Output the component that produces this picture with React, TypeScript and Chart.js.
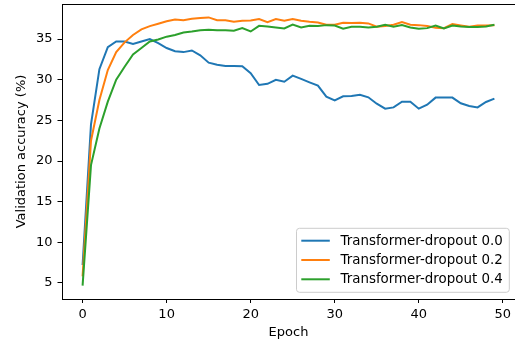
import { useEffect, useRef } from "react";
import { Chart, registerables } from "chart.js";

Chart.register(...registerables);

const epochs = [
  0, 1, 2, 3, 4, 5, 6, 7, 8, 9, 10, 11, 12, 13, 14, 15, 16, 17, 18, 19, 20, 21, 22, 23, 24,
  25, 26, 27, 28, 29, 30, 31, 32, 33, 34, 35, 36, 37, 38, 39, 40, 41, 42, 43, 44, 45, 46, 47, 48, 49,
];

const seriesLabels = [
  "Transformer-dropout 0.0",
  "Transformer-dropout 0.2",
  "Transformer-dropout 0.4",
];

const accDropout00 = [
  7.2, 24.5, 31.3, 34.0, 34.7, 34.7, 34.4, 34.7, 35.0, 34.5,
  33.9, 33.5, 33.4, 33.6, 33.0, 32.1, 31.85, 31.7, 31.7, 31.65,
  30.8, 29.35, 29.5, 30.0, 29.76, 30.5, 30.1, 29.68, 29.27, 27.92,
  27.47, 27.96, 28.0, 28.16, 27.84, 27.05, 26.44, 26.6, 27.3, 27.3,
  26.44, 26.93, 27.8, 27.8, 27.8, 27.1, 26.77, 26.6, 27.26, 27.67,
];

const accDropout02 = [
  5.8, 22.5, 27.5, 31.2, 33.4, 34.6, 35.5, 36.2, 36.6, 36.9,
  37.2, 37.42, 37.33, 37.5, 37.6, 37.67, 37.33, 37.33, 37.13, 37.25,
  37.3, 37.46, 37.09, 37.46, 37.25, 37.46, 37.25, 37.13, 37.05, 36.76,
  36.76, 37.0, 36.97, 37.0, 36.93, 36.52, 36.6, 36.76, 37.09, 36.76,
  36.72, 36.6, 36.39, 36.35, 36.84, 36.68, 36.52, 36.68, 36.68, 36.72,
];

const accDropout04 = [
  4.67, 19.5, 24.0, 27.3, 30.0, 31.6, 33.1, 33.9, 34.7, 34.95,
  35.3, 35.5, 35.82, 35.94, 36.1, 36.15, 36.1, 36.1, 36.03, 36.35,
  35.94, 36.63, 36.56, 36.44, 36.32, 36.8, 36.44, 36.63, 36.6, 36.72,
  36.68, 36.27, 36.52, 36.52, 36.44, 36.52, 36.76, 36.52, 36.72, 36.44,
  36.27, 36.35, 36.68, 36.31, 36.68, 36.56, 36.48, 36.48, 36.56, 36.76,
];

const xTicks = [0, 10, 20, 30, 40, 50];
const yTicks = [5, 10, 15, 20, 25, 30, 35];
const colors = ["#1f77b4", "#ff7f0e", "#2ca02c"];

const FONT_FAMILY = "'DejaVu Sans', 'Liberation Sans', sans-serif";

export default function App() {
  const ref = useRef<HTMLCanvasElement | null>(null);

  useEffect(() => {
    document.body.style.margin = "0";
    const canvas = ref.current;
    if (!canvas) return;
    const font = { family: FONT_FAMILY, size: 13 };

    const seriesValues = [accDropout00, accDropout02, accDropout04];

    const framePlugin = {
      id: "frameAndLegend",
      afterDraw(chart: any) {
        const ctx = chart.ctx as CanvasRenderingContext2D;
        const area = chart.chartArea;
        ctx.save();
        // top spine
        ctx.strokeStyle = "#000";
        ctx.lineWidth = 1;
        ctx.beginPath();
        ctx.moveTo(area.left, Math.round(area.top) + 0.5);
        ctx.lineTo(area.right, Math.round(area.top) + 0.5);
        ctx.stroke();

        // legend (lower right)
        ctx.font = `13.4px ${FONT_FAMILY}`;
        const datasets = chart.data.datasets;
        let maxW = 0;
        datasets.forEach((d: any) => {
          maxW = Math.max(maxW, ctx.measureText(d.label).width);
        });
        const boxRight = area.right - 5.7;
        const boxBottom = area.bottom - 6.7;
        const boxW = 44 + maxW + 6.6;
        const rowH = 19.3;
        const boxH = 12.4 + rowH * (datasets.length - 1) + 13;
        const boxLeft = boxRight - boxW;
        const boxTop = boxBottom - boxH;
        const r = 3;
        ctx.beginPath();
        ctx.moveTo(boxLeft + r, boxTop);
        ctx.lineTo(boxRight - r, boxTop);
        ctx.arcTo(boxRight, boxTop, boxRight, boxTop + r, r);
        ctx.lineTo(boxRight, boxBottom - r);
        ctx.arcTo(boxRight, boxBottom, boxRight - r, boxBottom, r);
        ctx.lineTo(boxLeft + r, boxBottom);
        ctx.arcTo(boxLeft, boxBottom, boxLeft, boxBottom - r, r);
        ctx.lineTo(boxLeft, boxTop + r);
        ctx.arcTo(boxLeft, boxTop, boxLeft + r, boxTop, r);
        ctx.closePath();
        ctx.fillStyle = "rgba(255,255,255,0.8)";
        ctx.fill();
        ctx.strokeStyle = "#cccccc";
        ctx.lineWidth = 1;
        ctx.stroke();

        datasets.forEach((d: any, i: number) => {
          const y = boxTop + 12.4 + i * rowH;
          ctx.strokeStyle = d.borderColor;
          ctx.lineWidth = 2;
          ctx.beginPath();
          ctx.moveTo(boxLeft + 4.8, y);
          ctx.lineTo(boxLeft + 33.3, y);
          ctx.stroke();
          ctx.fillStyle = "#000";
          ctx.textAlign = "left";
          ctx.textBaseline = "middle";
          ctx.fillText(d.label, boxLeft + 44, y + 0.5);
        });
        ctx.restore();
      },
    };

    const chart = new Chart(canvas, {
      type: "line",
      data: {
        datasets: seriesValues.map((vals, i) => ({
          label: seriesLabels[i],
          data: epochs.map((e, j) => ({ x: e, y: vals[j] })),
          borderColor: colors[i],
          backgroundColor: colors[i],
          borderWidth: 2,
          pointRadius: 0,
          tension: 0,
          fill: false,
          order: seriesValues.length - 1 - i,
        })),
      },
      options: {
        animation: false,
        responsive: false,
        devicePixelRatio: 1,
        layout: { padding: { top: 4, left: 0, right: 0, bottom: 0 } },
        plugins: {
          legend: { display: false },
          tooltip: { enabled: false },
        },
        scales: {
          x: {
            type: "linear",
            min: -2.45,
            max: 51.45,
            afterBuildTicks: (s: any) => {
              s.ticks = xTicks.map((v) => ({ value: v }));
            },
            afterFit: (s: any) => {
              s.height = 48;
              s.paddingLeft = 0;
              s.paddingRight = 0;
            },
            grid: {
              display: true,
              drawOnChartArea: false,
              drawTicks: true,
              tickLength: 4,
              tickColor: "#000",
              tickWidth: 1,
            },
            border: { display: true, color: "#000", width: 1 },
            ticks: {
              color: "#000",
              font,
              padding: 4,
              maxRotation: 0,
              autoSkip: false,
            },
            title: {
              display: true,
              text: "Epoch",
              color: "#000",
              font,
              padding: { top: 0, bottom: 7 },
            },
          },
          y: {
            type: "linear",
            min: 3.02,
            max: 39.32,
            afterBuildTicks: (s: any) => {
              s.ticks = yTicks.map((v) => ({ value: v }));
            },
            afterFit: (s: any) => {
              s.width = 62;
              s.paddingTop = 0;
              s.paddingBottom = 0;
            },
            grid: {
              display: true,
              drawOnChartArea: false,
              drawTicks: true,
              tickLength: 4.5,
              tickColor: "#000",
              tickWidth: 1,
            },
            border: { display: true, color: "#000", width: 1 },
            ticks: {
              color: "#000",
              font,
              padding: 5,
              autoSkip: false,
            },
            title: {
              display: true,
              text: "Validation accuracy (%)",
              color: "#000",
              font,
              padding: { top: 14, bottom: 0 },
            },
          },
        },
      },
      plugins: [framePlugin],
    } as any);

    return () => {
      chart.destroy();
    };
  }, []);

  return (
    <div style={{ width: 515, height: 347 }}>
      <canvas ref={ref} width={515} height={347} style={{ display: "block", width: 515, height: 347 }} />
    </div>
  );
}
